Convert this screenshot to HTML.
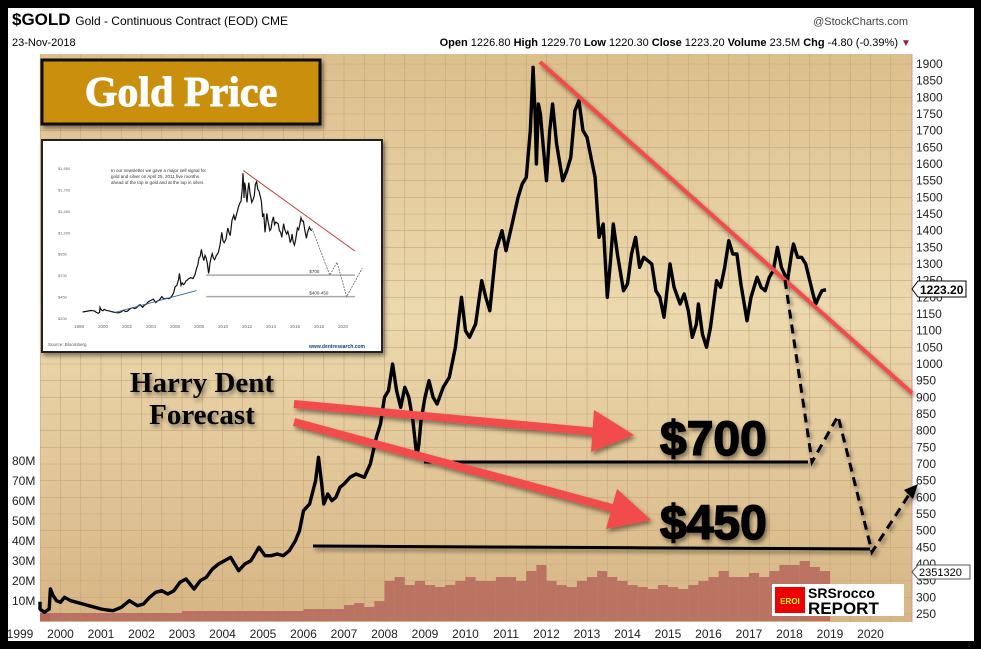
<!DOCTYPE html>
<html><head><meta charset="utf-8"><style>
html,body{margin:0;padding:0;background:#000;}
svg{display:block;font-family:"Liberation Sans",sans-serif;}
</style></head><body>
<svg id="chart" width="981" height="649" viewBox="0 0 981 649">
<defs>
<linearGradient id="bg" x1="0" y1="0" x2="0" y2="1">
<stop offset="0" stop-color="#dcbf8c"/><stop offset="0.45" stop-color="#ecd9ae"/><stop offset="1" stop-color="#d7b584"/>
</linearGradient>
<filter id="sh" x="-10%" y="-10%" width="120%" height="130%"><feDropShadow dx="2" dy="3" stdDeviation="2" flood-opacity="0.45"/></filter>
</defs>
<rect x="0" y="0" width="981" height="649" fill="#000"/>
<rect x="8" y="8" width="966" height="633" fill="#fff"/>
<g>
<text x="12" y="25" font-size="17" font-weight="bold">$GOLD <tspan font-size="12" font-weight="normal">Gold - Continuous Contract (EOD) CME</tspan></text>
<text x="908" y="25" font-size="11" fill="#444" text-anchor="end">@StockCharts.com</text>
<text x="12" y="46" font-size="11">23-Nov-2018</text>
<text x="898" y="46" font-size="11" text-anchor="end"><tspan font-weight="bold">Open</tspan> 1226.80 <tspan font-weight="bold">High</tspan> 1229.70 <tspan font-weight="bold">Low</tspan> 1220.30 <tspan font-weight="bold">Close</tspan> 1223.20 <tspan font-weight="bold">Volume</tspan> 23.5M <tspan font-weight="bold">Chg</tspan> -4.80 (-0.39%)</text>
<text x="901" y="46" font-size="10" fill="#a0203a">▼</text>
</g>
<rect x="40" y="54" width="872" height="568" fill="url(#bg)"/>
<g id="grid"></g>
<g id="vol"></g>
<g id="price"></g>
<g id="axes"></g>
<line x1="912" y1="54" x2="912" y2="622" stroke="#c99" stroke-width="1"/>

<g filter="url(#sh)">
<line x1="540" y1="62" x2="912" y2="393" stroke="#f24b4b" stroke-width="4"/>
<line x1="424" y1="462" x2="808" y2="462" stroke="#000" stroke-width="3"/>
<line x1="313" y1="546" x2="870" y2="549" stroke="#000" stroke-width="3"/>
<polyline points="785,280 812,462 838,416 872,552 912,490" fill="none" stroke="#000" stroke-width="3" stroke-dasharray="9,6"/>
<polygon points="918,484 904,490 913,499" fill="#000"/>
<line x1="294" y1="404" x2="598" y2="432" stroke="#f24b4b" stroke-width="8"/>
<polygon points="634,435 594,410 591,452" fill="#f24b4b"/>
<line x1="294" y1="422" x2="612" y2="508" stroke="#f24b4b" stroke-width="8"/>
<polygon points="651,520 617,489 606,529" fill="#f24b4b"/>
<text x="660" y="455" font-size="48" font-weight="bold" stroke="#000" stroke-width="1.5">$700</text>
<text x="660" y="539" font-size="48" font-weight="bold" stroke="#000" stroke-width="1.5">$450</text>
<text x="202" y="392" font-size="29" font-weight="bold" font-family="Liberation Serif,serif" text-anchor="middle">Harry Dent</text>
<text x="202" y="424" font-size="29" font-weight="bold" font-family="Liberation Serif,serif" text-anchor="middle">Forecast</text>
</g>

<g>
<rect x="42" y="60" width="278" height="64" fill="#c98f0d" stroke="#111" stroke-width="3" filter="url(#sh)"/>
<text x="181" y="106" font-size="42" font-weight="bold" font-family="Liberation Serif,serif" fill="#fff" stroke="#fff" stroke-width="1" text-anchor="middle">Gold Price</text>
</g>

<g>
<rect x="42" y="140" width="340" height="212" fill="#fff" stroke="#222" stroke-width="2" filter="url(#sh)"/>
<g id="inset"></g>
<text x="111" y="172" font-size="4.5" fill="#333">In our newsletter we gave a major sell signal for</text>
<text x="111" y="178" font-size="4.5" fill="#333">gold and silver on April 25, 2011 five months</text>
<text x="111" y="184" font-size="4.5" fill="#333">ahead of the top in gold and at the top in silver.</text>
<text x="48" y="346" font-size="4.5" fill="#555">Source: Bloomberg</text>
<text x="365" y="348" font-size="5" fill="#1a3a80" text-anchor="end" font-weight="bold">www.dentresearch.com</text>
</g>

<g>
<rect x="772" y="584" width="132" height="32" fill="#fff"/>
<rect x="775" y="587" width="30" height="26" fill="#e00"/>
<text x="790" y="604" font-size="8" fill="#ff0" text-anchor="middle" font-weight="bold">EROI</text>
<text x="808" y="598" font-size="14" font-weight="bold">SRSrocco</text>
<text x="808" y="614" font-size="17" font-weight="bold">REPORT</text>
</g>

<g>
<polygon points="912,289 918,281 966,281 966,297 918,297" fill="#fff" stroke="#000"/>
<text x="920" y="294" font-size="12" font-weight="bold">1223.20</text>
<polygon points="912,572 918,565 970,565 970,579 918,579" fill="#fff" stroke="#555"/>
<text x="919" y="576" font-size="11">2351320</text>
</g>

<script>
const dates=[1999.0,1999.15,1999.3,1999.45,1999.6,1999.72,1999.75,1999.82,1999.9,2000.0,2000.1,2000.25,2000.4,2000.55,2000.7,2000.85,2001.0,2001.15,2001.3,2001.5,2001.7,2001.9,2002.05,2002.2,2002.35,2002.5,2002.65,2002.8,2002.95,2003.1,2003.3,2003.45,2003.6,2003.75,2003.9,2004.05,2004.2,2004.4,2004.55,2004.7,2004.9,2005.05,2005.2,2005.35,2005.5,2005.65,2005.8,2005.9,2006.0,2006.15,2006.3,2006.37,2006.45,2006.5,2006.6,2006.7,2006.8,2006.9,2007.0,2007.15,2007.3,2007.5,2007.65,2007.8,2007.9,2008.0,2008.1,2008.2,2008.3,2008.4,2008.5,2008.6,2008.7,2008.8,2008.85,2008.9,2009.0,2009.1,2009.2,2009.3,2009.45,2009.6,2009.75,2009.9,2010.0,2010.1,2010.25,2010.4,2010.5,2010.6,2010.75,2010.9,2011.0,2011.15,2011.3,2011.4,2011.5,2011.6,2011.67,2011.72,2011.75,2011.8,2011.85,2011.92,2012.0,2012.08,2012.15,2012.25,2012.4,2012.5,2012.6,2012.7,2012.8,2012.9,2013.0,2013.1,2013.2,2013.3,2013.4,2013.5,2013.58,2013.65,2013.75,2013.9,2014.0,2014.1,2014.2,2014.3,2014.4,2014.5,2014.6,2014.7,2014.8,2014.9,2015.05,2015.15,2015.3,2015.4,2015.5,2015.6,2015.7,2015.75,2015.85,2015.95,2016.05,2016.2,2016.3,2016.4,2016.5,2016.6,2016.7,2016.8,2016.95,2017.05,2017.2,2017.3,2017.4,2017.5,2017.6,2017.7,2017.8,2017.95,2018.05,2018.1,2018.2,2018.3,2018.4,2018.5,2018.58,2018.65,2018.72,2018.8,2018.9];
const prices=[287,285,280,265,255,265,325,305,290,285,300,290,285,280,275,270,265,262,260,270,290,275,280,300,315,320,310,320,345,355,325,350,360,385,400,410,420,380,400,410,450,425,425,430,425,440,470,500,560,580,650,720,640,580,610,590,600,630,640,660,670,660,700,780,820,900,920,1000,920,870,930,900,830,720,760,830,900,950,900,880,930,960,1050,1200,1100,1080,1120,1250,1200,1160,1340,1400,1340,1420,1500,1540,1560,1700,1890,1740,1600,1780,1750,1650,1550,1700,1780,1660,1550,1580,1620,1760,1790,1700,1680,1620,1560,1380,1420,1200,1310,1420,1330,1220,1240,1330,1380,1290,1320,1310,1300,1220,1200,1140,1300,1230,1180,1210,1160,1080,1120,1180,1090,1050,1110,1250,1230,1290,1370,1330,1330,1240,1130,1200,1260,1230,1220,1260,1280,1350,1290,1250,1330,1360,1320,1320,1300,1250,1210,1180,1200,1220,1223];
const volStart=1999.0;
const volumes=[4,4,4,4,4,4,4,4,4,4,4,4,4,4,4,4,5,5,5,5,5,5,5,5,5,5,5,5,6,6,6,6,8,9,7,10,20,22,18,20,18,17,18,20,22,20,20,22,22,20,25,28,20,18,17,20,22,25,22,20,18,17,16,18,17,16,18,20,22,25,22,22,24,22,25,28,28,30,27,25];
const priceTicks=[250,300,350,400,450,500,550,600,650,700,750,800,850,900,950,1000,1050,1100,1150,1200,1250,1300,1350,1400,1450,1500,1550,1600,1650,1700,1750,1800,1850,1900];
const volTicks=[10,20,30,40,50,60,70,80];
const yearTicks=[1999,2000,2001,2002,2003,2004,2005,2006,2007,2008,2009,2010,2011,2012,2013,2014,2015,2016,2017,2018,2019,2020];

const NS='http://www.w3.org/2000/svg';
function X(t){return 20+(t-1999)*40.5;}
function Y(p){return 614-(p-250)/3;}
function VY(v){return 621-2*v;}
function IX(t){return 79+(t-1998)*12;}
function IY(p){return 318-(p-200)*(150/1750);}
function mk(tag,attrs,parent){const e=document.createElementNS(NS,tag);for(const k in attrs)e.setAttribute(k,attrs[k]);parent.appendChild(e);return e;}
const grid=document.getElementById('grid'),vol=document.getElementById('vol'),price=document.getElementById('price'),axes=document.getElementById('axes'),inset=document.getElementById('inset');
priceTicks.forEach(p=>{
 const l=mk('line',{x1:40,x2:912,y1:Y(p),y2:Y(p),stroke:'#c4a77a','stroke-width':0.6},grid);
 
 
 const t=mk('text',{x:916,y:Y(p)+4,'font-size':12,fill:'#222'},axes);
 t.textContent=p;
 
 
});
yearTicks.forEach(yr=>{
 [0,0.5].forEach(o=>{const x=X(yr+o);if(x>40&&x<912){
  const l=mk('line',{x1:x,x2:x,y1:54,y2:622,stroke:'#c4a77a','stroke-width':0.6},grid);
  
  }});
 const t=mk('text',{x:X(yr),y:638,'font-size':12,fill:'#222','text-anchor':'middle'},axes);
 t.textContent=yr;
 
 
});
volTicks.forEach(v=>{
 const t=mk('text',{x:12,y:VY(v)+4,'font-size':12,fill:'#222'},axes);
 t.textContent=v+'M';
 
 
});
volumes.forEach((v,i)=>{
 const t=volStart+i*0.25;const x=Math.max(40,X(t));const w=X(t+0.25)-X(t);
 const b=mk('rect',{x:x,y:VY(v),width:w,height:621-VY(v),fill:'#b5675c',opacity:0.85},vol);
 
 
});
const pts=dates.map((d,i)=>Math.max(40,X(d)).toFixed(1)+','+Y(prices[i]).toFixed(1)).join(' ');
const pl=mk('polyline',{points:pts,fill:'none',stroke:'#000','stroke-width':3.4,'stroke-linejoin':'round'},price);


[200,450,700,950,1200,1450,1700,1950].forEach(p=>{
 const t=mk('text',{x:58,y:IY(p)+2,'font-size':4,fill:'#666'},inset);
 t.textContent='$'+p.toLocaleString('en-US');
 
 
});
[1998,2000,2002,2004,2006,2008,2010,2012,2014,2016,2018,2020].forEach(yr=>{
 const t=mk('text',{x:IX(yr),y:328,'font-size':4.5,fill:'#666','text-anchor':'middle'},inset);
 t.textContent=yr;
 
 
});
const ipts=[[1998.3,270]].concat(dates.map((d,i)=>[d,prices[i]])).filter(a=>a[0]<2017.5).map(a=>IX(a[0]).toFixed(1)+','+IY(a[1]).toFixed(1)).join(' ');
const ipl=mk('polyline',{points:ipts,fill:'none',stroke:'#111','stroke-width':1.2},inset);


const ir=mk('line',{x1:IX(2011.7),y1:IY(1920),x2:IX(2021),y2:IY(980),stroke:'#c0403a','stroke-width':1},inset);


[[700,'$700'],[450,'$400-450']].forEach(a=>{
 const l=mk('line',{x1:IX(2008.6),x2:IX(2021),y1:IY(a[0]),y2:IY(a[0]),stroke:'#aaa','stroke-width':1.5},inset);
 
 
 const t=mk('text',{x:IX(2017.2),y:IY(a[0])-2,'font-size':4.5,fill:'#333'},inset);
 t.textContent=a[1];
 
 
});
const ifc=mk('polyline',{points:[[2017.4,1250],[2018.9,700],[2019.5,850],[2020.3,450],[2021.6,780]].map(a=>IX(a[0])+','+IY(a[1])).join(' '),fill:'none',stroke:'#666','stroke-width':0.8,'stroke-dasharray':'2,1'},inset);


const ib=mk('line',{x1:IX(2001),y1:IY(265),x2:IX(2007.8),y2:IY(520),stroke:'#3060a0','stroke-width':0.8},inset);


</script>
</svg>
</body></html>
